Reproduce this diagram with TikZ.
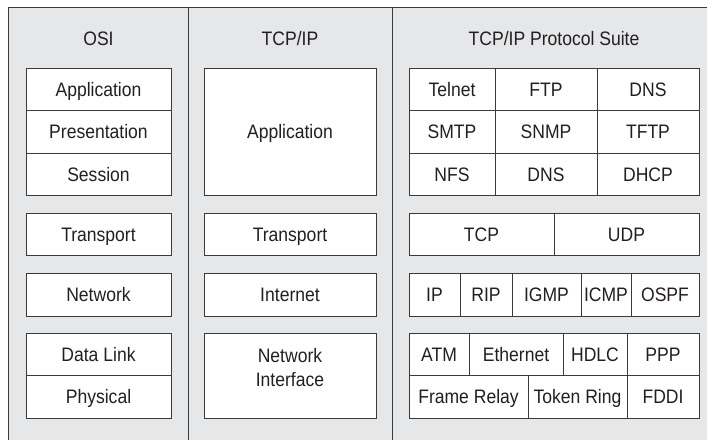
\documentclass[tikz,border=0pt]{standalone}
\usepackage{fontspec}
\setmainfont{Liberation Sans}[FakeStretch=0.9]
\definecolor{bgc}{HTML}{E6E7E8}
\definecolor{linec}{HTML}{3A3A3A}
\definecolor{txtc}{HTML}{231F20}
\newcommand\cellat[6]{\node[cell, minimum width={#4pt-#2pt}, minimum height={#5pt-#3pt}] (#1) at (#2,#3) {#6};}
\begin{document}
\begin{tikzpicture}[x=1pt,y=-1pt,
  cell/.style={draw=linec, line width=1pt, fill=white, inner sep=0pt, outer sep=0pt,
    anchor=north west, text=txtc, font=\fontsize{19.5}{24}\selectfont,
    text height=14pt, text depth=0pt, align=center},
  title/.style={anchor=base, text=txtc, font=\fontsize{19.5}{24}\selectfont, inner sep=0pt},
  frameline/.style={draw=linec, line width=1pt}]
\useasboundingbox (0,0) rectangle (707,440);
\fill[bgc] (8,7) rectangle (707,440);
\draw[frameline] (8,440) -- (8,7) -- (707,7);
\draw[frameline] (188,7) -- (188,440);
\draw[frameline] (392,7) -- (392,440);
% titles
\node[title] (tosi) at (98.5,45.5) {OSI};
\node[title] (ttcp) at (290,45.5) {TCP/IP};
\node[title] (tsuite) at (554,45.5) {TCP/IP Protocol Suite};
% OSI
\cellat{oapp}{26}{68}{171}{110.5}{Application}
\cellat{opres}{26}{110.5}{171}{153}{Presentation}
\cellat{osess}{26}{153}{171}{195.5}{Session}
\cellat{otrans}{26}{213}{171}{255}{Transport}
\cellat{onet}{26}{273}{171}{316}{Network}
\cellat{odl}{26}{333}{171}{375.5}{Data Link}
\cellat{ophy}{26}{375.5}{171}{418}{Physical}
% TCP/IP
\cellat{tapp}{204}{68}{376}{195.5}{Application}
\cellat{ttrans}{204}{213}{376}{255}{Transport}
\cellat{tint}{204}{273}{376}{316}{Internet}
\node[cell, minimum width=172pt, minimum height=85pt, text height=38pt, text depth=16pt] (tni) at (204,333) {Network\\Interface};
% Suite application
\cellat{telnet}{409}{68}{495}{110.5}{Telnet}
\cellat{ftp}{495}{68}{597}{110.5}{FTP}
\cellat{dnsa}{597}{68}{699}{110.5}{DNS}
\cellat{smtp}{409}{110.5}{495}{153}{SMTP}
\cellat{snmp}{495}{110.5}{597}{153}{SNMP}
\cellat{tftp}{597}{110.5}{699}{153}{TFTP}
\cellat{nfs}{409}{153}{495}{195.5}{NFS}
\cellat{dnsb}{495}{153}{597}{195.5}{DNS}
\cellat{dhcp}{597}{153}{699}{195.5}{DHCP}
% transport
\cellat{tcp}{409}{213}{554}{255}{TCP}
\cellat{udp}{554}{213}{699}{255}{UDP}
% internet
\cellat{ip}{409}{273}{460}{316}{IP}
\cellat{rip}{460}{273}{512}{316}{RIP}
\cellat{igmp}{512}{273}{581}{316}{IGMP}
\cellat{icmp}{581}{273}{631}{316}{ICMP}
\cellat{ospf}{631}{273}{699}{316}{OSPF}
% link
\cellat{atm}{409}{333}{469}{375.5}{ATM}
\cellat{eth}{469}{333}{563}{375.5}{Ethernet}
\cellat{hdlc}{563}{333}{627}{375.5}{HDLC}
\cellat{ppp}{627}{333}{699}{375.5}{PPP}
\cellat{fr}{409}{375.5}{528}{418}{Frame Relay}
\cellat{tr}{528}{375.5}{627}{418}{Token Ring}
\cellat{fddi}{627}{375.5}{699}{418}{FDDI}
\end{tikzpicture}
\end{document}
